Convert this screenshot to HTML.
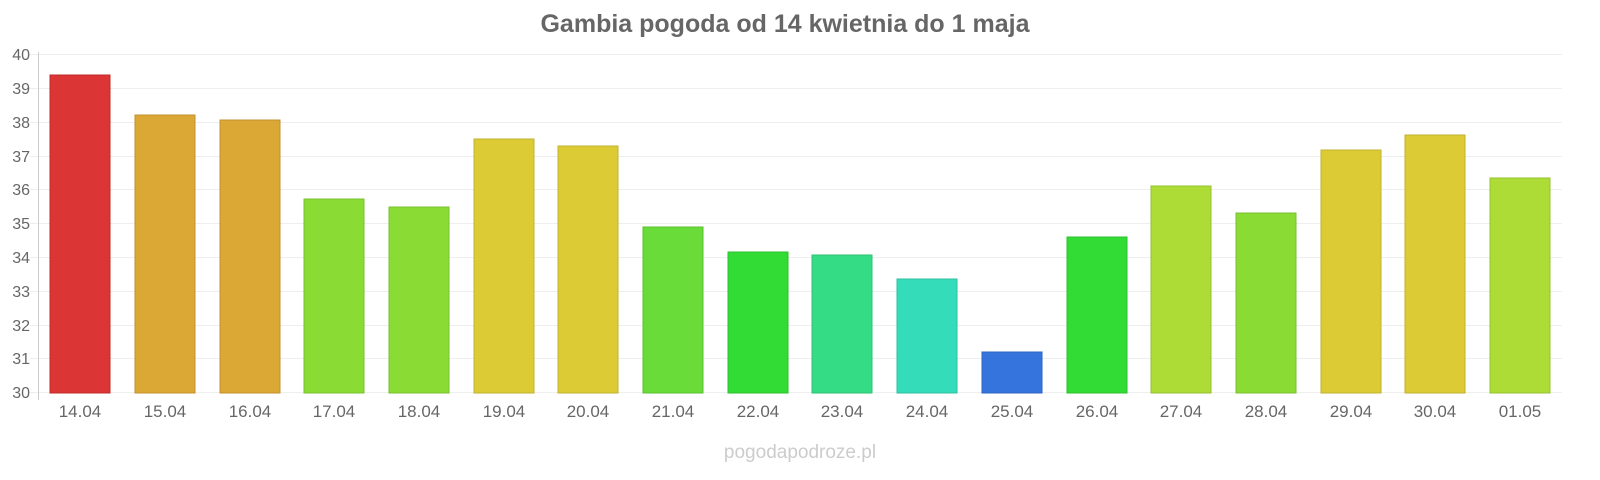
<!DOCTYPE html>
<html><head><meta charset="utf-8"><style>
body{margin:0;background:#fff;}
svg{display:block;font-family:"Liberation Sans",sans-serif;}
</style></head><body>
<svg width="1600" height="480" xmlns="http://www.w3.org/2000/svg">
<text x="785" y="32" text-anchor="middle" font-size="25" font-weight="bold" fill="#666">Gambia pogoda od 14 kwietnia do 1 maja</text>
<g stroke="#eee" stroke-width="1">
<line x1="30" x2="1562" y1="54.5" y2="54.5"/><line x1="30" x2="1562" y1="88.5" y2="88.5"/>
<line x1="30" x2="1562" y1="122.5" y2="122.5"/><line x1="30" x2="1562" y1="156.5" y2="156.5"/>
<line x1="30" x2="1562" y1="189.5" y2="189.5"/><line x1="30" x2="1562" y1="223.5" y2="223.5"/>
<line x1="30" x2="1562" y1="257.5" y2="257.5"/><line x1="30" x2="1562" y1="291.5" y2="291.5"/>
<line x1="30" x2="1562" y1="325.5" y2="325.5"/><line x1="30" x2="1562" y1="358.5" y2="358.5"/>
<line x1="30" x2="1562" y1="392.5" y2="392.5"/>
</g>
<line x1="38.5" x2="38.5" y1="52" y2="400" stroke="#ccc"/>
<g font-size="16" fill="#666" text-anchor="end">
<text x="30" y="60">40</text><text x="30" y="94">39</text><text x="30" y="128">38</text>
<text x="30" y="162">37</text><text x="30" y="195">36</text><text x="30" y="229">35</text>
<text x="30" y="263">34</text><text x="30" y="297">33</text><text x="30" y="331">32</text>
<text x="30" y="364">31</text><text x="30" y="398">30</text>
</g>
<g stroke-width="1">
<rect x="50" y="75" width="60" height="318" fill="#dc3535" stroke="#c02b2b"/>
<rect x="135" y="115" width="60" height="278" fill="#dca835" stroke="#c09030"/>
<rect x="220" y="120" width="60" height="273" fill="#dca835" stroke="#c09030"/>
<rect x="304" y="199" width="60" height="194" fill="#8adc35" stroke="#78c030"/>
<rect x="389" y="207" width="60" height="186" fill="#8adc35" stroke="#78c030"/>
<rect x="474" y="139" width="60" height="254" fill="#dccb35" stroke="#c0b030"/>
<rect x="558" y="146" width="60" height="247" fill="#dccb35" stroke="#c0b030"/>
<rect x="643" y="227" width="60" height="166" fill="#69dc3a" stroke="#5ac030"/>
<rect x="728" y="252" width="60" height="141" fill="#33dc35" stroke="#2cc02e"/>
<rect x="812" y="255" width="60" height="138" fill="#35dc86" stroke="#2ec074"/>
<rect x="897" y="279" width="60" height="114" fill="#35dcb9" stroke="#2ec0a0"/>
<rect x="982" y="352" width="60" height="41" fill="#3574dc" stroke="#2e64c0"/>
<rect x="1067" y="237" width="60" height="156" fill="#33dc35" stroke="#2cc02e"/>
<rect x="1151" y="186" width="60" height="207" fill="#acdc35" stroke="#96c030"/>
<rect x="1236" y="213" width="60" height="180" fill="#8adc35" stroke="#78c030"/>
<rect x="1321" y="150" width="60" height="243" fill="#dccb35" stroke="#c0b030"/>
<rect x="1405" y="135" width="60" height="258" fill="#dccb35" stroke="#c0b030"/>
<rect x="1490" y="178" width="60" height="215" fill="#acdc35" stroke="#96c030"/>
</g>
<g font-size="17" fill="#666" text-anchor="middle">
<text x="80" y="417">14.04</text><text x="165" y="417">15.04</text><text x="250" y="417">16.04</text>
<text x="334" y="417">17.04</text><text x="419" y="417">18.04</text><text x="504" y="417">19.04</text>
<text x="588" y="417">20.04</text><text x="673" y="417">21.04</text><text x="758" y="417">22.04</text>
<text x="842" y="417">23.04</text><text x="927" y="417">24.04</text><text x="1012" y="417">25.04</text>
<text x="1097" y="417">26.04</text><text x="1181" y="417">27.04</text><text x="1266" y="417">28.04</text>
<text x="1351" y="417">29.04</text><text x="1435" y="417">30.04</text><text x="1520" y="417">01.05</text>
</g>
<text x="800" y="458" text-anchor="middle" font-size="19" fill="#ccc">pogodapodroze.pl</text>
</svg>
</body></html>
